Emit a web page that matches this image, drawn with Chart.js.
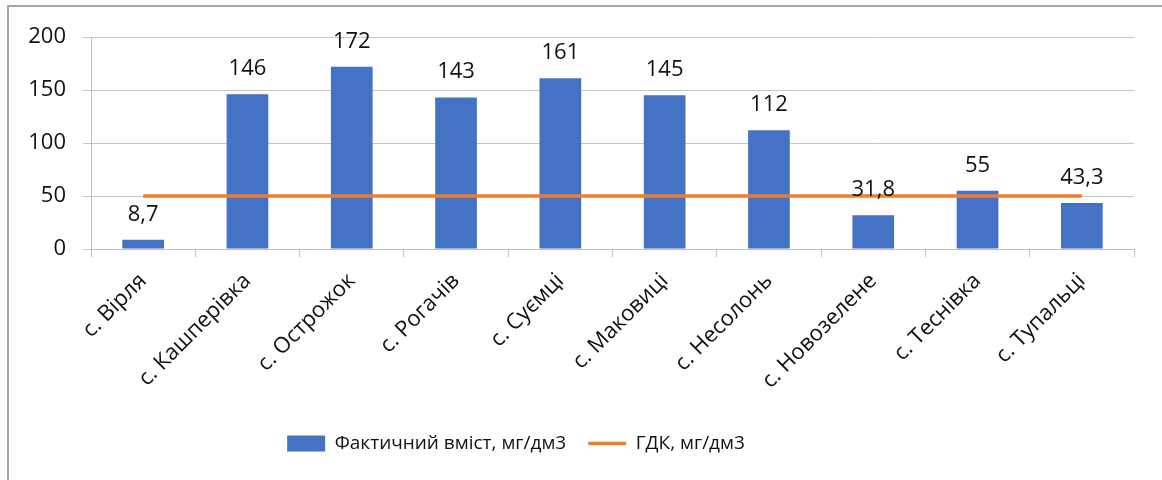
<!DOCTYPE html>
<html>
<head>
<meta charset="utf-8">
<script src="https://cdn.jsdelivr.net/npm/chart.js@4.4.1/dist/chart.umd.min.js"></script>
<style>
  body { margin: 0; background: #fff; }
  #wrap { position: relative; width: 1162px; height: 480px; }
  #frame {
    position: absolute; left: 7px; top: 5px; right: 0; bottom: 0;
    border-left: 2px solid #a6a6a6; border-top: 2px solid #a6a6a6;
    pointer-events: none;
  }
</style>
</head>
<body>
<div id="wrap">
  <canvas id="myChart" width="1162" height="480"></canvas>
  <div id="frame"></div>
</div>
<script>
"use strict";

const villages = [
  "с. Вірля", "с. Кашперівка", "с. Острожок", "с. Рогачів", "с. Суємці",
  "с. Маковиці", "с. Несолонь", "с. Новозелене", "с. Теснівка", "с. Тупальці"
];
const actualValues = [8.7, 146, 172, 143, 161, 145, 112, 31.8, 55, 43.3];
const limitValues = [50, 50, 50, 50, 50, 50, 50, 50, 50, 50];
const yTicks = [0, 50, 100, 150, 200];

const FONT = "'Open Sans', sans-serif";

// values above the bars, decimal comma like the original
const barLabels = {
  id: "barLabels",
  afterDatasetsDraw(chart) {
    const ctx = chart.ctx;
    const meta = chart.getDatasetMeta(0);
    ctx.save();
    ctx.font = "22px " + FONT;
    ctx.fillStyle = "#111";
    ctx.textAlign = "center";
    ctx.textBaseline = "alphabetic";
    meta.data.forEach((bar, i) => {
      const txt = String(actualValues[i]).replace(".", ",");
      ctx.fillText(txt, bar.x, bar.y - 19);
    });
    ctx.restore();
  },
};

// legend sits a bit left of centre in the original
const legendShift = {
  id: "legendShift",
  afterLayout(chart) {
    chart.legend.left -= 56;
    chart.legend.right -= 56;
  },
};

const ctx = document.getElementById("myChart").getContext("2d");
const myChart = new Chart(ctx, {
  type: "bar",
  data: {
    labels: villages,
    datasets: [
      {
        label: "Фактичний вміст, мг/дм3",
        data: actualValues,
        backgroundColor: "#4472C4",
        categoryPercentage: 1,
        barPercentage: 0.4,
        order: 1,
      },
      {
        type: "line",
        label: "ГДК, мг/дм3",
        data: limitValues,
        borderColor: "#ED7D31",
        backgroundColor: "#ED7D31",
        borderWidth: 3.5,
        pointRadius: 0,
        order: 0,
      },
    ],
  },
  options: {
    responsive: false,
    animation: false,
    layout: { padding: { left: 10, top: 37, right: 28, bottom: 17 } },
    scales: {
      x: {
        grid: {
          offset: true,
          drawOnChartArea: false,
          color: "#bfbfbf",
          tickLength: 8,
        },
        border: { color: "#bfbfbf" },
        ticks: {
          minRotation: 45,
          maxRotation: 45,
          padding: 11,
          color: "#111",
          font: { family: FONT, size: 22 },
        },
        afterFit(scale) { scale.height = 163; },
      },
      y: {
        min: 0,
        max: 200,
        afterBuildTicks(scale) { scale.ticks = yTicks.map(v => ({ value: v })); },
        grid: { color: "#c6c6c6", tickLength: 8 },
        border: { color: "#bfbfbf" },
        ticks: {
          padding: 17,
          color: "#111",
          font: { family: FONT, size: 22 },
        },
        afterFit(scale) { scale.width = 81; },
      },
    },
    plugins: {
      tooltip: { enabled: false },
      legend: {
        position: "bottom",
        labels: {
          usePointStyle: true,
          pointStyleWidth: 38,
          boxHeight: 16,
          padding: 22,
          color: "#111",
          font: { family: FONT, size: 19 },
          sort: (a, b) => a.datasetIndex - b.datasetIndex,
          generateLabels(chart) {
            const items = Chart.defaults.plugins.legend.labels.generateLabels(chart);
            items.forEach(it => {
              if (it.datasetIndex === 0) {
                it.pointStyle = "rect";
                it.lineWidth = 0;
              } else {
                it.pointStyle = "line";
                it.lineWidth = 3.5;
              }
            });
            return items;
          },
        },
      },
    },
  },
  plugins: [barLabels, legendShift],
});
</script>
</body>
</html>
